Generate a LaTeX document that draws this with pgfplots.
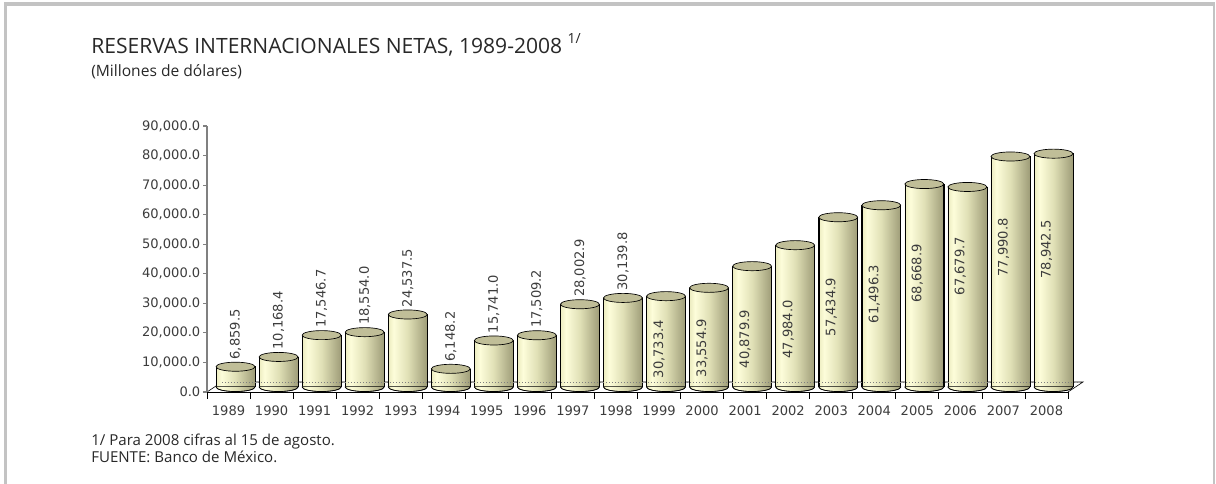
\documentclass[border=0pt]{standalone}
\usepackage{fontspec}
\setmainfont{Open Sans}
\newfontfamily\dejavu{DejaVu Sans}
\usepackage{pgfplots}
\usepackage{pgfplotstable}
\pgfplotsset{compat=1.18}

\definecolor{framec}{RGB}{195,195,195}
\definecolor{textc}{RGB}{40,40,40}
\definecolor{labc}{RGB}{60,60,60}
\definecolor{axgray}{RGB}{128,128,128}
\definecolor{cylA}{RGB}{236,236,192}
\definecolor{cylB}{RGB}{253,253,218}
\definecolor{cylM}{RGB}{224,224,182}
\definecolor{cylC}{RGB}{158,156,120}
\definecolor{topc}{RGB}{192,190,152}

\pgfdeclarehorizontalshading{cyl}{100bp}{color(0bp)=(cylA); color(25bp)=(cylA);
  color(32bp)=(cylB); color(50bp)=(cylM); color(75bp)=(cylC); color(100bp)=(cylC)}

% cylinder parts: body (cut off at the axis floor by clipping), caps
\pgfdeclareplotmark{cylbody}{%
  \path[shade, shading=cyl] (-14.6pt,0pt) rectangle (14.6pt,-260pt);
  \draw[black, line width=0.5pt] (-14.6pt,0pt) -- (-14.6pt,-260pt)
    (14.6pt,0pt) -- (14.6pt,-260pt);}
\pgfdeclareplotmark{cyltop}{%
  \pgfpathellipse{\pgfpointorigin}{\pgfqpoint{14.6pt}{0pt}}{\pgfqpoint{0pt}{3.4pt}}%
  \pgfusepathqfillstroke}
\pgfdeclareplotmark{cylbot}{%
  \path[shade, shading=cyl] (-14.6pt,0.3pt) -- (-14.6pt,0pt)
    arc[start angle=180, end angle=360, x radius=14.6pt, y radius=3.4pt]
    -- (14.6pt,0.3pt) -- cycle;
  \draw[black, line width=0.5pt] (-14.6pt,0pt)
    arc[start angle=180, end angle=360, x radius=14.6pt, y radius=3.4pt];}

\newcommand{\ticfont}{\dejavu\fontsize{9.8}{11}\selectfont}
\pgfkeys{/pgf/number format/valnum/.style={fixed, fixed zerofill, precision=1,
    1000 sep={,}, assume math mode=true}}

\pgfplotstableread{
x y b
0 6859.5 0
1 10168.4 0
2 17546.7 0
3 18554.0 0
4 24537.5 0
5 6148.2 0
6 15741.0 0
7 17509.2 0
8 28002.9 0
9 30139.8 0
10 30733.4 0
11 33554.9 0
12 40879.9 0
13 47984.0 0
14 57434.9 0
15 61496.3 0
16 68668.9 0
17 67679.7 0
18 77990.8 0
19 78942.5 0
}\reservas

\pgfplotstableread{
x y
0 6859.5
1 10168.4
2 17546.7
3 18554.0
4 24537.5
5 6148.2
6 15741.0
7 17509.2
8 28002.9
9 30139.8
}\arriba

% labels set inside the tall cylinders (x, label position, value)
\pgfplotstableread{
x pos v
10 14549 30733.4
11 14887 33554.9
12 17933 40879.9
13 21147 47984.0
14 28760 57434.9
15 33158 61496.3
16 40095 68668.9
17 42632 67679.7
18 48892 77990.8
19 48215 78942.5
}\dentro

\pgfplotsset{
  cylaxis/.style={
    at={(160.5pt,72.75pt)}, anchor=south west,
    width=645.75pt, height=199.5pt, scale only axis,
    xmin=-0.5, xmax=19.5, ymin=0, ymax=90000,
    axis lines=none, ticks=none},
}

\begin{document}
\begin{tikzpicture}
\path (0pt,0pt) rectangle (912pt,363pt);
\fill[framec] (3pt,0pt) rectangle (5.6pt,361.5pt);
\fill[framec] (3pt,358.5pt) rectangle (911.6pt,361.5pt);
\fill[framec] (909.9pt,0pt) rectangle (911.6pt,361.5pt);

\node[anchor=base west, inner sep=0pt, text=textc, font=\fontsize{15.8}{18}\selectfont]
  at (68.25pt,322.5pt) {RESERVAS INTERNACIONALES NETAS, 1989-2008 \raisebox{0.5em}{\fontsize{10.5}{12}\selectfont 1/}};
\node[anchor=base west, inner sep=0pt, text=textc, font=\fontsize{11.7}{14}\selectfont]
  at (68.25pt,305.25pt) {(Millones de dólares)};
\node[anchor=base west, inner sep=0pt, text=textc, font=\fontsize{11.3}{13}\selectfont]
  at (68.25pt,28.9pt) {1/ Para 2008 cifras al 15 de agosto.};
\node[anchor=base west, inner sep=0pt, text=textc, font=\fontsize{11.3}{13}\selectfont]
  at (68.25pt,16.1pt) {FUENTE: Banco de México.};

% floor of the 3d chart
\draw[black, line width=0.5pt] (155.25pt,69pt) -- (166.5pt,76.5pt) -- (812.25pt,76.5pt) -- (801pt,69pt);

% cylinder bodies, clipped at the floor
\begin{axis}[cylaxis, clip=true, clip marker paths=true]
\addplot[only marks, mark=cylbody] table {\reservas};
\end{axis}

% caps and value labels
\begin{axis}[cylaxis, clip=false]
\addplot[only marks, mark=cylbot] table[x=x, y=b] {\reservas};
\addplot[only marks, mark=cyltop, mark options={fill=topc, draw=black, line width=0.5pt}] table {\reservas};
\addplot[only marks, mark=none, point meta=y,
    nodes near coords={\pgfmathprintnumber[valnum]{\pgfplotspointmeta}},
    every node near coord/.append style={font=\ticfont, text=labc, rotate=90, anchor=west, inner xsep=5.3pt, inner ysep=0pt},
] table {\arriba};
\end{axis}

% front axis
\begin{axis}[
    at={(155.25pt,69pt)}, anchor=south west,
    width=645.75pt, height=199.5pt, scale only axis,
    xmin=-0.5, xmax=19.5, ymin=0, ymax=90000,
    clip=false,
    axis x line*=bottom, axis y line*=left,
    x axis line style={black, line width=0.6pt},
    y axis line style={axgray, line width=1.1pt},
    xtick={0,...,19},
    xticklabels={1989,1990,1991,1992,1993,1994,1995,1996,1997,1998,1999,2000,2001,2002,2003,2004,2005,2006,2007,2008},
    major x tick style={draw=none},
    minor xtick={-0.5,0.5,...,19.5},
    minor x tick style={black, line width=0.6pt},
    minor tick length=5.25pt,
    ytick={0,10000,...,90000},
    scaled y ticks=false,
    y tick style={axgray, line width=0.8pt},
    major tick length=3pt,
    tick align=outside,
    tick label style={font=\ticfont, text=labc},
    xticklabel style={yshift=-3.5pt},
    yticklabel style={xshift=1.5pt},
    yticklabel={\pgfmathprintnumber[valnum]{\tick}},
]
\addplot[only marks, mark=none, point meta=explicit,
    nodes near coords={\pgfmathprintnumber[valnum]{\pgfplotspointmeta}},
    every node near coord/.append style={font=\ticfont, text=labc, rotate=90, anchor=center, inner sep=0pt},
] table[x=x, y=pos, meta=v] {\dentro};
\end{axis}

\draw[axgray, line width=0.5pt, dash pattern=on 0.75pt off 1.5pt] (166.5pt,76.5pt) -- (812.25pt,76.5pt);
\end{tikzpicture}
\end{document}
